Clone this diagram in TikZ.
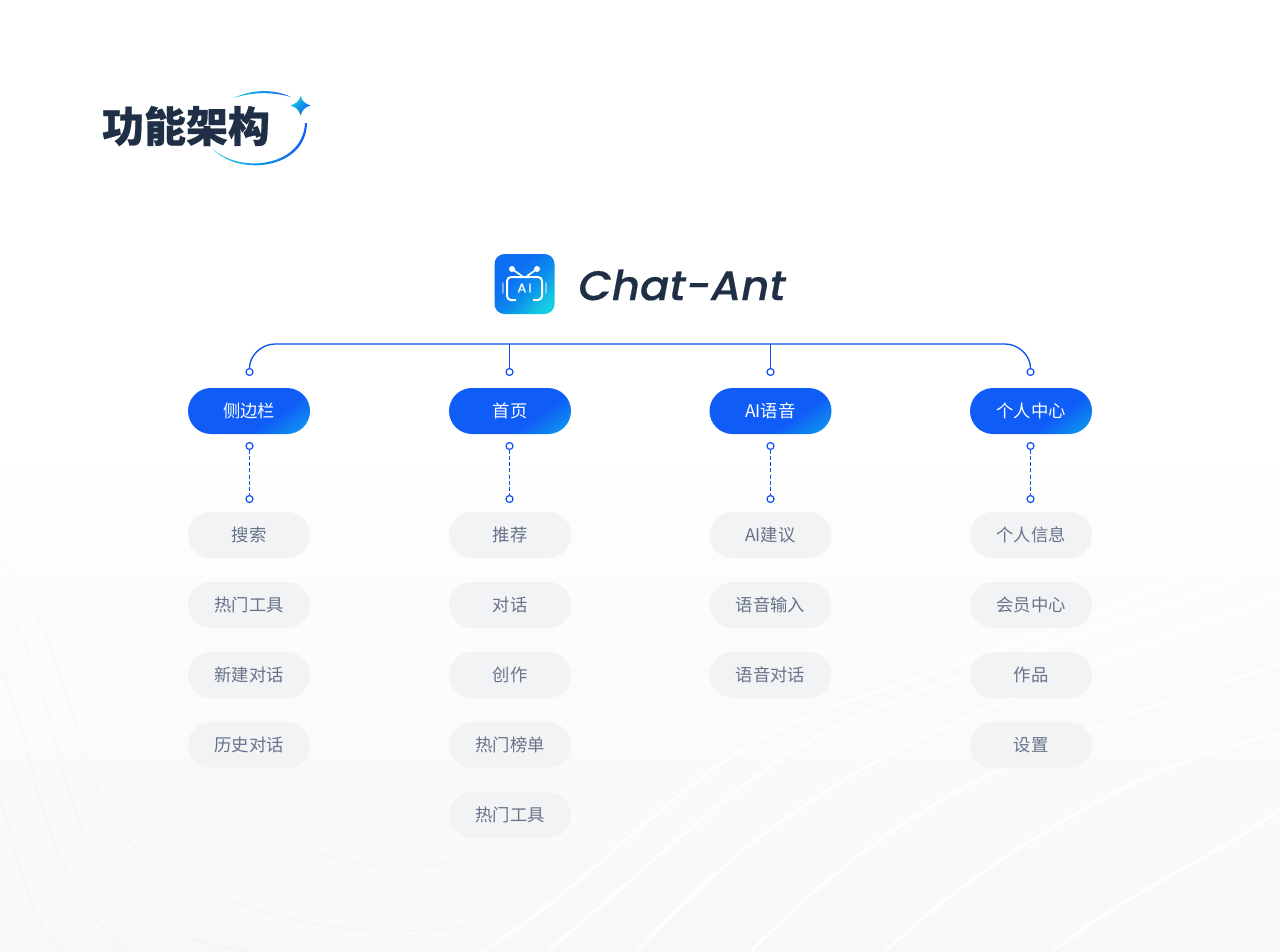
\documentclass[tikz,border=0pt]{standalone}
\usepackage{fontspec}
\usetikzlibrary{shapes.misc}
\setmainfont{Noto Sans CJK SC}
\newfontfamily\cjkblack{Noto Sans CJK SC}[UprightFont=* Black,FakeBold=0.6]
\newfontfamily\latinlogo{Poppins}[ItalicFont=* Medium Italic,FakeStretch=1.05,FakeBold=0.4]
\definecolor{inkdark}{HTML}{1F2F45}
\definecolor{linkblue}{HTML}{0F4FF0}
\definecolor{pillblue}{HTML}{0F5CF6}
\definecolor{pillmid}{HTML}{0F86F2}
\definecolor{pillcyan}{HTML}{14CDE0}
\definecolor{iconblue}{HTML}{0D6FF3}
\definecolor{iconmid}{HTML}{0C8CEE}
\definecolor{subfill}{HTML}{F2F3F5}
\definecolor{subtext}{HTML}{66738A}
\definecolor{midgrey}{HTML}{FBFBFD}
\definecolor{bottomgrey}{HTML}{F6F7FA}
\pgfdeclarehorizontalshading{pillgrad}{100bp}{color(0bp)=(pillblue);color(62bp)=(pillblue);color(76bp)=(pillmid);color(92bp)=(pillcyan);color(100bp)=(pillcyan)}
\pgfdeclarehorizontalshading{icongrad}{100bp}{color(0bp)=(iconblue);color(38bp)=(iconblue);color(55bp)=(iconmid);color(76bp)=(pillcyan);color(100bp)=(pillcyan)}
\pgfdeclareverticalshading{pagegrad}{100bp}{color(0bp)=(bottomgrey);color(12bp)=(bottomgrey);color(50bp)=(midgrey);color(88bp)=(white);color(100bp)=(white)}
\tikzset{
 x=0.75pt,y=-0.75pt,
 topnode/.style={rounded rectangle,minimum width=91.5pt,minimum height=34.5pt,inner sep=0pt,shade,shading=pillgrad,shading angle=305,text=white,font=\fontsize{13}{15}\selectfont},
 subnode/.style={rounded rectangle,minimum width=91.5pt,minimum height=34.5pt,inner sep=0pt,fill=subfill,text=subtext,font=\fontsize{13}{15}\selectfont},
 portdot/.style={circle,draw=linkblue,fill=white,line width=0.9pt,minimum size=5.2pt,inner sep=0pt},
 trunk/.style={draw=linkblue,line width=1pt},
 dashlink/.style={draw=linkblue,line width=1pt,dash pattern=on 3pt off 1.6pt},
 whitewave/.style={draw=white,line width=2.4pt,opacity=0.85},
 greywave/.style={draw=black!55,line width=1.2pt,opacity=0.025},
}
\begin{document}
\begin{tikzpicture}
\useasboundingbox (0,0) rectangle (1280,951);
\fill[white] (0,0) rectangle (1280,951);
\shade[shading=pagegrad] (0,470) rectangle (1280,951);
% background waves
\draw[greywave] (0,557) .. controls (70,640) and (70,760) .. (120,830) .. controls (170,895) and (330,950) .. (470,925);
\draw[greywave] (0,600) .. controls (60,680) and (50,800) .. (110,880) .. controls (140,920) and (190,945) .. (250,951);
\draw[greywave] (0,670) .. controls (40,750) and (30,860) .. (125,951);
\draw[greywave] (0,800) .. controls (20,860) and (25,910) .. (60,951);
\draw[greywave] (190,760) .. controls (260,840) and (350,885) .. (460,860);
\draw[whitewave] (482,951) .. controls (600,880) and (680,770) .. (800,720) .. controls (950,660) and (1130,620) .. (1280,520);
\draw[whitewave] (547,951) .. controls (660,860) and (740,770) .. (860,715) .. controls (1000,655) and (1150,620) .. (1280,560);
\draw[whitewave] (637,951) .. controls (740,840) and (830,780) .. (950,725) .. controls (1060,675) and (1170,635) .. (1280,595);
\draw[whitewave] (751,951) .. controls (840,860) and (930,800) .. (1020,760) .. controls (1110,720) and (1190,690) .. (1280,665);
\draw[whitewave] (886,951) .. controls (960,880) and (1060,820) .. (1130,785) .. controls (1180,760) and (1230,745) .. (1280,733);
\draw[whitewave] (1053,951) .. controls (1130,890) and (1210,860) .. (1280,810);
% heading
\node[font=\cjkblack\fontsize{31.5}{32}\selectfont,text=inkdark,inner sep=0pt] (heading) at (186,126) {功能架构};
\shade[left color=pillcyan,right color=pillblue] (234,98) .. controls (250,90) and (272,88) .. (291,97) .. controls (272,91.5) and (252,92) .. (234,98) -- cycle;
\shade[left color=pillcyan,right color=pillblue] (213,149) .. controls (240,174) and (303,167) .. (305,123) -- (307,123) .. controls (306,170) and (238,176.5) .. (213,149) -- cycle;
\shade[left color=pillcyan,right color=pillblue,shading angle=45] (300.7,96) .. controls (302,101.5) and (305,103.5) .. (310.5,105.5) .. controls (305,107) and (302,110) .. (300.7,115.5) .. controls (299,110) and (296,107) .. (290.5,105.5) .. controls (296,103.5) and (299,101.5) .. (300.7,96) -- cycle;
% logo
\node[rounded corners=7.5pt,minimum width=45pt,minimum height=45pt,inner sep=0pt,shade,shading=icongrad,shading angle=315] (icon) at (524.5,284) {};
\draw[white,line width=1.5pt,rounded corners=3pt] (516,300) -- (507,300) -- (507,277) -- (542,277) -- (542,300) -- (533,300);
\draw[white,line width=1.3pt,line cap=round] (512,269) -- (522,276) (537,269) -- (527,276);
\fill[white] (512,269) circle (3) (537,269) circle (3);
\draw[white,opacity=.45,line width=1.3pt,line cap=round] (503,283) -- (503,293) (546,283) -- (546,293);
\node[font=\latinlogo\fontsize{9.5}{10}\selectfont,text=white,inner sep=0pt] (iconai) at (524.5,288) {A\hspace{1.5pt}I};
\node[font=\latinlogo\itshape\fontsize{31}{34}\selectfont,text=inkdark,inner sep=0pt] (brand) at (682,285) {Chat-Ant};
% top nodes
\node[topnode] (t1) at (249,411) {侧边栏};
\node[topnode] (t2) at (510,411) {首页};
\node[topnode] (t3) at (770.5,411) {AI语音};
\node[topnode] (t4) at (1031,411) {个人中心};
% ports
\foreach \n/\x in {1/249.5,2/509.5,3/770.5,4/1030.5}{
 \node[portdot] (a\n) at (\x,372) {};
 \node[portdot] (b\n) at (\x,446) {};
 \node[portdot] (c\n) at (\x,499) {};
 \draw[dashlink] (b\n) -- (c\n);
}
\coordinate (top2) at (509.5,344);
\coordinate (top3) at (770.5,344);
\draw[trunk] (a1.north) .. controls (249.5,356) and (261,344) .. (275,344) -- (1005,344) .. controls (1019,344) and (1030.5,356) .. (a4.north);
\draw[trunk] (top2) -- (a2.north);
\draw[trunk] (top3) -- (a3.north);
% sub nodes
\node[subnode] (s11) at (249,535) {搜索};
\node[subnode] (s12) at (249,605) {热门工具};
\node[subnode] (s13) at (249,675) {新建对话};
\node[subnode] (s14) at (249,745) {历史对话};
\node[subnode] (s21) at (510,535) {推荐};
\node[subnode] (s22) at (510,605) {对话};
\node[subnode] (s23) at (510,675) {创作};
\node[subnode] (s24) at (510,745) {热门榜单};
\node[subnode] (s25) at (510,815) {热门工具};
\node[subnode] (s31) at (770.5,535) {AI建议};
\node[subnode] (s32) at (770.5,605) {语音输入};
\node[subnode] (s33) at (770.5,675) {语音对话};
\node[subnode] (s41) at (1031,535) {个人信息};
\node[subnode] (s42) at (1031,605) {会员中心};
\node[subnode] (s43) at (1031,675) {作品};
\node[subnode] (s44) at (1031,745) {设置};
\end{tikzpicture}
\end{document}
